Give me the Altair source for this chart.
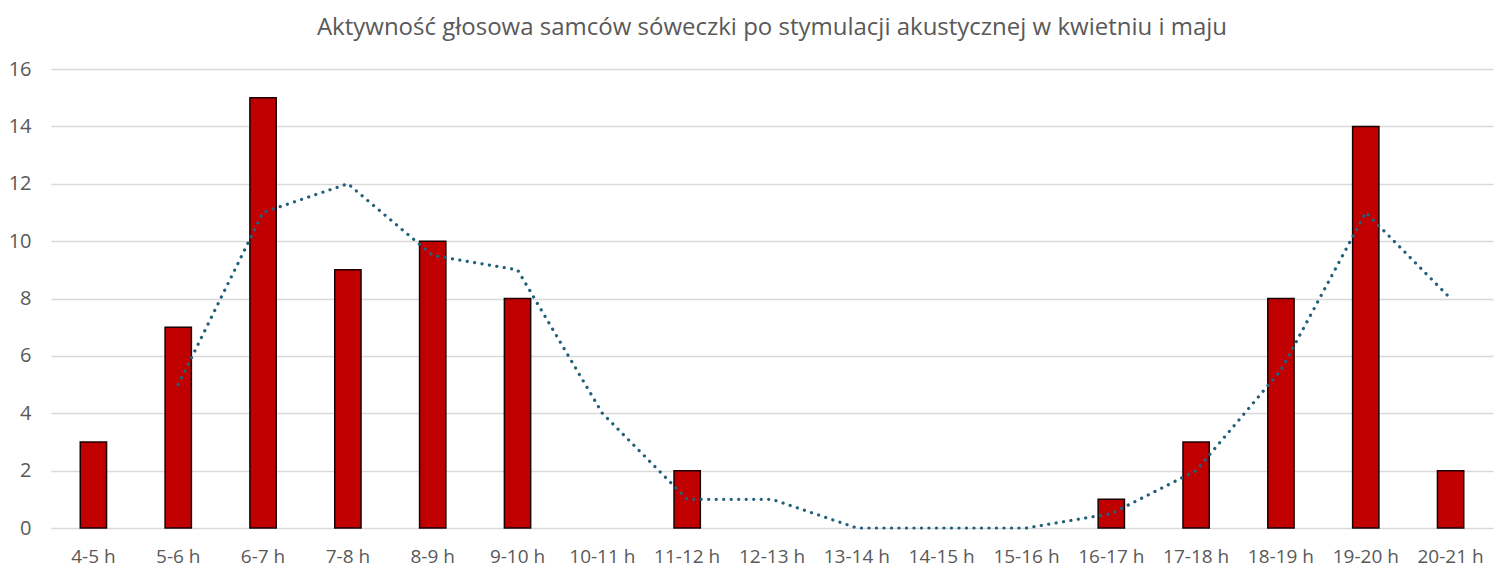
import altair as alt
import pandas as pd

hours = ["4-5 h", "5-6 h", "6-7 h", "7-8 h", "8-9 h", "9-10 h", "10-11 h", "11-12 h",
         "12-13 h", "13-14 h", "14-15 h", "15-16 h", "16-17 h", "17-18 h", "18-19 h",
         "19-20 h", "20-21 h"]
counts = [3, 7, 15, 9, 10, 8, 0, 2, 0, 0, 0, 0, 1, 3, 8, 14, 2]
trend = [None, 5, 11, 12, 9.5, 9, 4, 1, 1, 0, 0, 0, 0.5, 2, 5.5, 11, 8]

df = pd.DataFrame({"h": hours, "n": counts, "t": trend})

FONT = "Open Sans"
GRAY = "#595959"

x = alt.X("h:N", sort=hours, title=None,
          scale=alt.Scale(paddingInner=0.69, paddingOuter=0.345),
          axis=alt.Axis(labelAngle=0, ticks=False, domain=False, labelPadding=19,
                        labelFontSize=19, labelColor=GRAY, labelFont=FONT))

bars = alt.Chart(df).transform_filter("datum.n > 0").mark_bar(
    color="#C00000", stroke="#1a0000", strokeWidth=1.5).encode(
    x=x,
    y=alt.Y("n:Q", title=None,
            scale=alt.Scale(domain=[0, 16], nice=False),
            axis=alt.Axis(values=list(range(0, 17, 2)), ticks=False, domain=False,
                          labelPadding=20, labelFontSize=20, labelColor=GRAY,
                          labelFont=FONT, gridColor="#d9d9d9", gridWidth=1.5)),
)

line = alt.Chart(df).mark_line(color="#22607C", strokeWidth=3.2, strokeDash=[0.1, 7.4],
                               strokeCap="round").encode(
    x=alt.X("h:N", sort=hours),
    y=alt.Y("t:Q"),
)

chart = alt.layer(bars, line).properties(
    width=1442, height=459,
    title=alt.Title("Aktywność głosowa samców sóweczki po stymulacji akustycznej w kwietniu i maju",
                    fontSize=24, font=FONT, fontWeight="normal", color=GRAY,
                    anchor="middle", offset=19),
    autosize=alt.AutoSizeParams(type="none"),
    padding={"left": 43, "top": 61, "right": 7, "bottom": 40},
).configure_view(stroke=None)

chart.save("out.html", embed_options={"renderer": "svg", "actions": False})
